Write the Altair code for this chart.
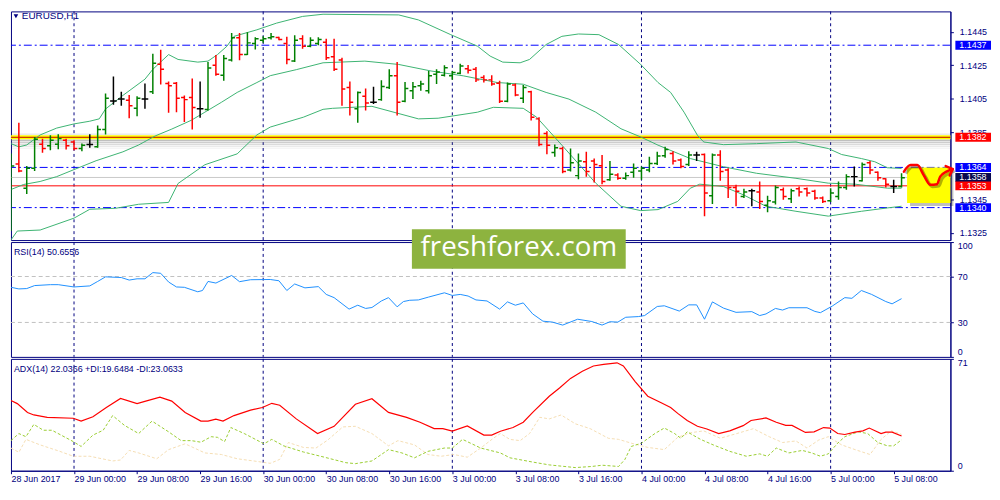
import altair as alt
import pandas as pd

# ---------------- data ----------------
bar_open = [1.13319, 1.13660, 1.13516, 1.13635, 1.13779, 1.13769, 1.13779, 1.13802, 1.13792, 1.13753,
            1.13777, 1.13763, 1.13867, 1.14037, 1.14049, 1.14041, 1.13994, 1.14049, 1.14092, 1.14256,
            1.14141, 1.14143, 1.14057, 1.14057, 1.13990, 1.13986, 1.14250, 1.14191, 1.14282, 1.14414,
            1.14315, 1.14380, 1.14400, 1.14414, 1.14416, 1.14380, 1.14276, 1.14408, 1.14364, 1.14380,
            1.14388, 1.14301, 1.14282, 1.14118, 1.13990, 1.14065, 1.14029, 1.14045, 1.14118, 1.14187,
            1.14035, 1.14098, 1.14128, 1.14098, 1.14197, 1.14191, 1.14187, 1.14203, 1.14230, 1.14226,
            1.14177, 1.14163, 1.14143, 1.14035, 1.14132, 1.14053, 1.14092, 1.13930, 1.13842, 1.13729,
            1.13753, 1.13625, 1.13591, 1.13674, 1.13678, 1.13650, 1.13566, 1.13595, 1.13576, 1.13611,
            1.13619, 1.13625, 1.13664, 1.13710, 1.13723, 1.13684, 1.13658, 1.13714, 1.13717, 1.13471,
            1.13714, 1.13625, 1.13520, 1.13467, 1.13501, 1.13493, 1.13414, 1.13434, 1.13506, 1.13453,
            1.13512, 1.13512, 1.13497, 1.13457, 1.13441, 1.13467, 1.13520, 1.13585, 1.13560, 1.13668,
            1.13611, 1.13572, 1.13526, 1.13526]
bar_high = [1.13723, 1.13907, 1.13648, 1.13822, 1.13812, 1.13832, 1.13838, 1.13812, 1.13802, 1.13783,
            1.13838, 1.13891, 1.14082, 1.14183, 1.14092, 1.14072, 1.14065, 1.14141, 1.14319, 1.14343,
            1.14153, 1.14151, 1.14069, 1.14171, 1.14153, 1.14270, 1.14311, 1.14311, 1.14443, 1.14443,
            1.14447, 1.14418, 1.14423, 1.14443, 1.14420, 1.14420, 1.14429, 1.14429, 1.14418, 1.14418,
            1.14408, 1.14408, 1.14295, 1.14153, 1.14094, 1.14112, 1.14122, 1.14161, 1.14226, 1.14270,
            1.14151, 1.14151, 1.14157, 1.14216, 1.14226, 1.14250, 1.14216, 1.14260, 1.14252, 1.14240,
            1.14191, 1.14191, 1.14157, 1.14147, 1.14141, 1.14132, 1.14098, 1.13940, 1.13856, 1.13777,
            1.13763, 1.13753, 1.13723, 1.13733, 1.13694, 1.13714, 1.13678, 1.13605, 1.13609, 1.13664,
            1.13645, 1.13704, 1.13733, 1.13763, 1.13737, 1.13694, 1.13737, 1.13733, 1.13723, 1.13723,
            1.13743, 1.13635, 1.13536, 1.13512, 1.13512, 1.13556, 1.13471, 1.13532, 1.13520, 1.13512,
            1.13526, 1.13520, 1.13506, 1.13467, 1.13516, 1.13556, 1.13599, 1.13645, 1.13670, 1.13678,
            1.13615, 1.13576, 1.13566, 1.13605]
bar_low = [1.13260, 1.13611, 1.13481, 1.13619, 1.13727, 1.13743, 1.13749, 1.13747, 1.13743, 1.13737,
           1.13757, 1.13757, 1.13836, 1.14015, 1.14009, 1.13934, 1.13946, 1.13990, 1.14078, 1.14136,
           1.13966, 1.13970, 1.13911, 1.13867, 1.13936, 1.13980, 1.14187, 1.14157, 1.14272, 1.14280,
           1.14311, 1.14345, 1.14384, 1.14404, 1.14400, 1.14256, 1.14270, 1.14349, 1.14358, 1.14370,
           1.14282, 1.14216, 1.14009, 1.13950, 1.13907, 1.13980, 1.14019, 1.14039, 1.14108, 1.13950,
           1.14029, 1.14049, 1.14098, 1.14082, 1.14138, 1.14183, 1.14163, 1.14197, 1.14201, 1.14151,
           1.14147, 1.14128, 1.14025, 1.14029, 1.14065, 1.14025, 1.13921, 1.13767, 1.13719, 1.13704,
           1.13605, 1.13615, 1.13570, 1.13585, 1.13550, 1.13540, 1.13560, 1.13566, 1.13566, 1.13579,
           1.13566, 1.13611, 1.13654, 1.13698, 1.13658, 1.13635, 1.13648, 1.13678, 1.13349, 1.13422,
           1.13560, 1.13457, 1.13408, 1.13457, 1.13408, 1.13392, 1.13372, 1.13418, 1.13447, 1.13428,
           1.13467, 1.13467, 1.13447, 1.13428, 1.13434, 1.13447, 1.13506, 1.13526, 1.13556, 1.13599,
           1.13560, 1.13520, 1.13487, 1.13520]
bar_close = [1.13648, 1.13619, 1.13635, 1.13808, 1.13753, 1.13802, 1.13812, 1.13769, 1.13753, 1.13773,
             1.13777, 1.13867, 1.14053, 1.14037, 1.14049, 1.14009, 1.14053, 1.14049, 1.14262, 1.14226,
             1.14128, 1.14053, 1.14045, 1.13998, 1.13990, 1.14234, 1.14197, 1.14291, 1.14414, 1.14315,
             1.14384, 1.14408, 1.14408, 1.14420, 1.14404, 1.14285, 1.14400, 1.14364, 1.14400, 1.14404,
             1.14295, 1.14226, 1.14108, 1.14029, 1.14088, 1.14025, 1.14029, 1.14124, 1.14187, 1.14029,
             1.14112, 1.14122, 1.14138, 1.14187, 1.14210, 1.14236, 1.14207, 1.14246, 1.14220, 1.14163,
             1.14163, 1.14138, 1.14035, 1.14138, 1.14072, 1.14118, 1.13940, 1.13777, 1.13773, 1.13757,
             1.13615, 1.13668, 1.13678, 1.13615, 1.13658, 1.13556, 1.13599, 1.13576, 1.13591, 1.13635,
             1.13635, 1.13664, 1.13708, 1.13747, 1.13678, 1.13645, 1.13714, 1.13714, 1.13487, 1.13714,
             1.13615, 1.13520, 1.13497, 1.13493, 1.13501, 1.13437, 1.13441, 1.13520, 1.13467, 1.13501,
             1.13493, 1.13487, 1.13457, 1.13437, 1.13487, 1.13520, 1.13585, 1.13585, 1.13658, 1.13625,
             1.13579, 1.13540, 1.13526, 1.13579]

bb_upper_idx = [0, 1, 2, 3.7, 5.8, 8, 10, 11.2, 12, 14.2, 17, 18, 20, 21.2, 23.7, 25, 26.2, 27.4, 28.3,
                31.2, 33.7, 37, 39.6, 49.2, 51.7, 55.8, 59.2, 60.8, 62.4, 64.6, 65.8, 67.9, 69.9, 72,
                74.6, 77.1, 79.9, 82.1, 83.7, 85.4, 87.1, 87.9, 90.4, 94.6, 99.6, 103.7, 105.4, 107.9,
                109.6, 111.2, 113]
bb_upper_val = [1.13782, 1.13763, 1.13774, 1.13834, 1.13875, 1.13900, 1.13916, 1.13930, 1.13989, 1.14070,
                1.14167, 1.14226, 1.14314, 1.14285, 1.14269, 1.14275, 1.14314, 1.14364, 1.14423, 1.14462,
                1.14502, 1.14542, 1.14555, 1.14551, 1.14521, 1.14433, 1.14364, 1.14305, 1.14269, 1.14265,
                1.14285, 1.14374, 1.14423, 1.14437, 1.14433, 1.14374, 1.14255, 1.14147, 1.14088, 1.13970,
                1.13832, 1.13792, 1.13776, 1.13782, 1.13792, 1.13753, 1.13717, 1.13693, 1.13674, 1.13638,
                1.13634]
bb_mid_idx = [0, 1.6, 3.7, 5.8, 8, 10.8, 14.2, 16.2, 18.3, 20.4, 22.9, 24.6, 26.7, 28.7, 31.2, 32.9, 36.2,
              39.6, 44.9, 49.2, 53.3, 57.4, 61.7, 65, 67.9, 70.8, 74.2, 77.4, 79.9, 82.1, 86.2, 90.4, 94.6,
              99.6, 103.7, 107.1, 111.2, 113]
bb_mid_val = [1.13508, 1.13538, 1.13556, 1.13585, 1.13627, 1.13680, 1.13733, 1.13774, 1.13828, 1.13869,
              1.13922, 1.13970, 1.14029, 1.14088, 1.14147, 1.14188, 1.14224, 1.14265, 1.14275, 1.14255,
              1.14216, 1.14187, 1.14147, 1.14137, 1.14088, 1.14048, 1.13970, 1.13871, 1.13822, 1.13773,
              1.13693, 1.13644, 1.13605, 1.13575, 1.13546, 1.13540, 1.13516, 1.13516]
bb_lower_idx = [0, 0.8, 3.7, 8, 10, 13.3, 16.2, 20, 21.2, 24.6, 28.7, 31.2, 32.9, 37.1, 39.6, 40.8, 45.8,
                51.7, 54.2, 59.2, 61.2, 65, 66.7, 69.9, 74.2, 77.4, 79.9, 82.1, 84.6, 86.2, 87.4, 90.4,
                92.9, 95.8, 99.6, 103.7, 107.9, 111.2, 113]
bb_lower_val = [1.13207, 1.13260, 1.13266, 1.13337, 1.13390, 1.13396, 1.13420, 1.13431, 1.13544, 1.13656,
                1.13721, 1.13834, 1.13881, 1.13940, 1.13987, 1.13993, 1.14005, 1.13930, 1.13934, 1.13970,
                1.13999, 1.13993, 1.13940, 1.13773, 1.13546, 1.13408, 1.13382, 1.13388, 1.13437, 1.13516,
                1.13540, 1.13526, 1.13477, 1.13408, 1.13378, 1.13349, 1.13378, 1.13398, 1.13408]

rsi_idx = [0, 1, 2, 3, 5, 6, 8, 10, 11, 12, 14, 15, 16, 17, 18, 19, 20, 21, 22, 23.7, 24.3, 25, 26, 28,
           29, 30.4, 32.9, 34, 35, 36, 37.3, 39, 40, 41, 42.9, 44, 45, 45.8, 47, 47.9, 49, 49.8, 50.6,
           51.7, 53, 55, 56, 57, 58, 59, 60.4, 62, 63, 64, 65, 66.2, 67.5, 68.7, 70, 71.9, 73.7, 75, 76,
           77, 78, 79.6, 80.4, 82, 82.9, 84.8, 86, 87, 88, 89, 90.4, 92, 94, 95, 95.8, 97, 97.9, 98.7,
           101, 102, 102.7, 104.2, 105.8, 106.7, 107.9, 109.2, 111, 111.8, 113]
rsi_val = [60.6, 59.2, 59.5, 62.1, 62.9, 62.9, 60.9, 61.8, 65.7, 69.7, 69.1, 66.9, 68.0, 68.0, 73.4, 72.8,
           65.2, 60.9, 60.6, 56.7, 57.8, 65.7, 64.3, 70.9, 65.5, 67.2, 67.4, 66.3, 57.8, 63.5, 60.1, 61.2,
           54.4, 51.6, 41.6, 45.0, 42.2, 43.0, 48.7, 51.6, 43.6, 48.2, 49.3, 49.6, 52.1, 55.8, 53.5, 54.4,
           53.0, 49.6, 48.7, 41.6, 47.9, 45.0, 47.0, 37.4, 31.1, 30.3, 27.7, 32.8, 30.8, 27.7, 30.6, 30.3,
           34.5, 35.1, 36.0, 43.9, 44.5, 39.9, 45.3, 45.3, 32.8, 47.9, 42.5, 38.8, 39.4, 36.0, 37.4, 42.2,
           40.8, 42.8, 42.8, 39.6, 38.5, 44.2, 51.6, 51.0, 57.8, 54.4, 48.2, 46.2, 50.7]

adx_idx = [0, 0.8, 2.1, 2.9, 4.6, 7.9, 8.9, 10.4, 12.1, 13.9, 16, 17.1, 18.9, 20.4, 22.1, 24.1, 25, 26,
           26.9, 28.3, 30.4, 31.9, 33.1, 34.1, 36.2, 38.9, 41, 43.7, 45.8, 47.9, 50.2, 51.9, 53.7, 54.8,
           56, 57.9, 60, 61, 62.1, 63.7, 65, 66.2, 68.3, 69.6, 71, 72.5, 73.9, 75.2, 76.9, 77.7, 79.2,
           80.8, 82.5, 83.7, 84.6, 85.8, 87.1, 88.3, 89.8, 91.2, 92.9, 93.9, 95.8, 97.1, 98.3, 99.1,
           100.8, 101.9, 103.1, 103.9, 104.9, 105.8, 107.1, 108.1, 108.9, 110.4, 111, 111.8, 113]
adx_val = [44.6, 42.6, 37.0, 35.4, 33.9, 33.3, 31.5, 34.3, 40.1, 45.9, 42.6, 44.2, 46.7, 44.2, 37.0, 31.5,
           31.5, 32.7, 31.5, 35.0, 38.5, 40.1, 42.8, 41.6, 32.9, 23.6, 28.2, 42.2, 45.7, 37.0, 33.9, 30.8,
           26.7, 26.7, 25.1, 28.4, 22.6, 22.6, 25.1, 27.4, 30.8, 37.0, 47.3, 52.5, 58.6, 63.2, 66.5, 67.5,
           68.5, 66.5, 56.6, 47.3, 43.2, 40.1, 36.4, 31.9, 28.2, 26.5, 23.6, 25.3, 28.6, 31.9, 33.5, 30.8,
           28.8, 28.8, 24.3, 24.7, 27.4, 27.1, 23.6, 23.0, 24.5, 25.3, 27.1, 23.6, 24.5, 24.5, 22.0]
pdi_idx = [0, 1, 1.9, 2.9, 4.1, 5.2, 7.9, 8.9, 10.4, 11.7, 12.9, 14.4, 16.2, 17.9, 20, 21.6, 22.9, 24.1,
           25.4, 26.2, 27.1, 27.9, 29.6, 32.1, 33.1, 34.6, 37.1, 39.6, 42.5, 43.7, 45.8, 47.9, 49.6, 51.2,
           52.9, 55, 56, 57.3, 59.6, 62.1, 63.3, 66.2, 68.3, 71.6, 73.7, 75, 77.1, 77.9, 78.7, 80, 81.7,
           82.9, 84.2, 85, 85.8, 87.5, 89.1, 91.2, 93.3, 95, 96, 97.1, 98.7, 100.4, 101.6, 102.7, 103.7,
           104.9, 105.8, 107.5, 108.7, 110, 111.2, 112, 113]
pdi_val = [19.1, 23.6, 21.6, 29.4, 25.7, 25.7, 18.5, 15.4, 22.6, 25.7, 35.0, 28.8, 23.6, 31.5, 24.7, 19.1,
           19.1, 18.1, 21.6, 21.2, 18.5, 27.4, 23.6, 17.1, 19.9, 15.8, 11.9, 8.8, 5.1, 4.5, 6.2, 13.4,
           11.3, 8.2, 12.3, 14.4, 14.4, 19.9, 14.4, 11.3, 8.2, 5.5, 3.7, 2.0, 2.7, 3.5, 2.7, 7.2, 15.4,
           17.5, 23.6, 27.1, 23.6, 20.6, 24.7, 19.9, 16.4, 12.3, 9.2, 10.7, 9.2, 14.4, 11.3, 12.9, 11.3,
           9.2, 10.7, 17.5, 21.6, 24.7, 23.6, 17.9, 15.8, 15.8, 19.6]
mdi_idx = [0, 1, 1.9, 3.7, 6.2, 7.9, 10, 12.9, 13.9, 15, 16.2, 18.5, 20, 22.1, 24.6, 26.7, 28.7, 30.8,
           32.9, 34.1, 35.2, 37.1, 38.7, 40.2, 42.1, 43.7, 45.8, 47.9, 49.1, 51.2, 52.9, 54.6, 56.2, 57.9,
           59.6, 61.2, 62.1, 63.3, 64.6, 65.8, 67.1, 68.3, 69.8, 71.6, 73.5, 75.8, 77.1, 78.7, 80.8, 82.9,
           84.6, 86.2, 87.9, 90, 92.1, 94.2, 96.2, 97.9, 99.6, 101, 102.5, 103.7, 105.4, 107.1, 109,
           110.4, 111.7, 113]
mdi_val = [14.4, 11.7, 19.9, 16.4, 12.3, 9.2, 9.2, 6.2, 6.8, 12.9, 11.3, 7.6, 13.4, 17.1, 11.3, 10.3, 7.6,
           6.2, 4.7, 7.2, 17.9, 14.8, 14.4, 19.5, 27.8, 28.2, 23.6, 15.8, 19.1, 16.4, 10.3, 9.2, 10.3, 8.6,
           14.4, 20.6, 23.6, 19.9, 19.1, 23.6, 33.9, 32.9, 35.4, 29.8, 26.7, 20.6, 19.9, 17.5, 14.8, 13.4,
           21.2, 24.1, 25.3, 20.6, 23.6, 26.7, 21.6, 17.9, 18.9, 14.4, 19.5, 21.6, 16.4, 13.4, 10.3, 19.9,
           25.3, 23.1]

blue_levels = [1.1437, 1.1364, 1.1340]
yellow_level = [1.1382]
bid_level = [1.1358]
red_level = [1.1353]

# right-side price tags (drawn in this order)
tag_price = [1.1358, 1.1437, 1.1382, 1.1364, 1.1353, 1.1340]
tag_color = ['#0A0A50', '#0000FF', '#FF0000', '#0000FF', '#FF0000', '#0000FF']

price_ticks = [1.1325, 1.1345, 1.1385, 1.1405, 1.1425, 1.1445]
rsi_ticks = [0, 30, 70, 100]
rsi_levels = [30, 70]
adx_ticks = [0, 71]

day_idx = [8, 32, 56, 80, 104]
time_tick_idx = [0, 8, 16, 24, 32, 40, 48, 56, 64, 72, 80, 88, 96, 104, 112]
time_tick_labels = ['28 Jun 2017', '29 Jun 00:00', '29 Jun 08:00', '29 Jun 16:00', '30 Jun 00:00',
                    '30 Jun 08:00', '30 Jun 16:00', '3 Jul 00:00', '3 Jul 08:00', '3 Jul 16:00',
                    '4 Jul 00:00', '4 Jul 08:00', '4 Jul 16:00', '5 Jul 00:00', '5 Jul 08:00']

# hand-drawn forecast annotation
box_idx = [113.7, 119.2]
box_price = [1.13640, 1.13427]
wave_idx = [113.3, 114.15, 115.0, 115.8, 116.65, 117.5, 117.9, 118.7, 119.5]
wave_price = [1.13615, 1.13654, 1.13654, 1.13595, 1.13536, 1.13540, 1.13585, 1.13615, 1.13630]
arrow_idx = [118.6, 119.5, 119.1]
arrow_price = [1.13648, 1.13630, 1.13592]

title_text = 'EURUSD,H1'
rsi_text = 'RSI(14) 50.6556'
adx_text = 'ADX(14) 22.0366 +DI:19.6484 -DI:23.0633'
watermark_text = 'freshforex.com'

# ---------------- style ----------------
W = 949
H_PRICE, H_RSI, H_ADX = 231, 116, 113
X_DOMAIN = [0, 119.2]
PRICE_DOMAIN = [1.13206, 1.14572]
NAVY = '#000080'
FONT = 'Liberation Sans'
BB = '#3CB371'

xscale = alt.Scale(domain=X_DOMAIN, nice=False, zero=False)
pscale = alt.Scale(domain=PRICE_DOMAIN, nice=False, zero=False)
rscale = alt.Scale(domain=[0, 100], nice=False, zero=False)
ascale = alt.Scale(domain=[0, 71], nice=False, zero=False)

common_axis = dict(grid=False, domainColor=NAVY, tickColor=NAVY, tickSize=3, labelColor=NAVY,
                   labelFont=FONT, labelFontSize=9, title=None)
price_axis = alt.Axis(orient='right', values=price_ticks, format='.4f', labelPadding=6, **common_axis)
rsi_axis = alt.Axis(orient='right', values=rsi_ticks, labelFlush=True, labelPadding=4, **common_axis)
adx_axis = alt.Axis(orient='right', values=adx_ticks, labelFlush=True, labelPadding=4, **common_axis)
label_expr = '[' + ','.join("'" + t + "'" for t in time_tick_labels) + '][round(datum.value / 8)]'
time_axis = alt.Axis(orient='bottom', values=time_tick_idx, labelExpr=label_expr, labelAlign='left',
                     labelPadding=1, labelOverlap=False, **common_axis)


def X(field, axis=None):
    return alt.X(f'{field}:Q', scale=xscale, axis=axis)


def YP(field):
    return alt.Y(f'{field}:Q', scale=pscale, axis=price_axis)


def YR(field):
    return alt.Y(f'{field}:Q', scale=rscale, axis=rsi_axis)


def YA(field):
    return alt.Y(f'{field}:Q', scale=ascale, axis=adx_axis)


# ---------------- tables ----------------
bars = pd.DataFrame({'idx': list(range(len(bar_open))), 'open': bar_open, 'high': bar_high,
                     'low': bar_low, 'close': bar_close})
bars['dir'] = ['up' if c > o else ('down' if c < o else 'flat') for o, c in zip(bar_open, bar_close)]
bars['xl'] = bars['idx'] - 0.42
bars['xr'] = bars['idx'] + 0.42
dir_color = alt.Color('dir:N', scale=alt.Scale(domain=['up', 'down', 'flat'],
                                               range=['#008000', '#FF0000', '#000000']), legend=None)

days = pd.DataFrame({'idx': day_idx})
upper = pd.DataFrame({'idx': bb_upper_idx, 'v': bb_upper_val})
mid = pd.DataFrame({'idx': bb_mid_idx, 'v': bb_mid_val})
lower = pd.DataFrame({'idx': bb_lower_idx, 'v': bb_lower_val})
tags = pd.DataFrame({'p': tag_price, 'c': tag_color, 'k': list(range(len(tag_price)))})
tags['t'] = [f'{p:.4f}' for p in tag_price]


# ---------------- price panel ----------------
def day_rule(axis=None):
    return alt.Chart(days).mark_rule(color=NAVY, strokeDash=[3, 3], strokeWidth=1).encode(x=X('idx', axis))


p_days = day_rule()
p_blue = alt.Chart(pd.DataFrame({'p': blue_levels})).mark_rule(
    color='#0000FF', strokeDash=[8, 3, 2, 3], strokeWidth=1).encode(y=YP('p'))
p_bid = alt.Chart(pd.DataFrame({'p': bid_level})).mark_rule(color='#C8C8C8', strokeWidth=1).encode(y=YP('p'))
p_red = alt.Chart(pd.DataFrame({'p': red_level})).mark_rule(color='#FF0000', strokeWidth=1).encode(y=YP('p'))
ydf = pd.DataFrame({'p': yellow_level})
p_yshadow = [alt.Chart(ydf).mark_rule(color='#707070', strokeWidth=1.5, opacity=op, yOffset=off).encode(y=YP('p'))
             for off, op in [(-3, 0.15), (3, 0.45), (5, 0.35), (7, 0.25), (9, 0.15), (11, 0.07)]]
p_yellow = alt.Chart(ydf).mark_rule(color='#FFFF00', strokeWidth=4).encode(y=YP('p'))
p_ycore = alt.Chart(ydf).mark_rule(color='#C00000', strokeWidth=1).encode(y=YP('p'))

p_bands = [alt.Chart(d).mark_line(color=BB, strokeWidth=1, clip=True).encode(x=X('idx'), y=YP('v'))
           for d in (upper, mid, lower)]

p_wick = alt.Chart(bars).mark_rule(strokeWidth=1.5, clip=True).encode(
    x=X('idx'), y=YP('low'), y2='high', color=dir_color)
p_open = alt.Chart(bars).transform_filter('datum.xl >= 0').mark_rule(strokeWidth=1.5, clip=True).encode(
    x=X('xl'), x2='idx', y=YP('open'), color=dir_color)
p_close = alt.Chart(bars).mark_rule(strokeWidth=1.5, clip=True).encode(
    x=X('idx'), x2='xr', y=YP('close'), color=dir_color)

boxdf = pd.DataFrame({'x1': [box_idx[0]], 'x2': [box_idx[1]], 'y1': [box_price[0]], 'y2': [box_price[1]]})
p_box_shadow = alt.Chart(boxdf).mark_rect(color='#000000', opacity=0.25, xOffset=3, yOffset=3,
                                          x2Offset=3, y2Offset=3).encode(
    x=X('x1'), x2='x2', y=YP('y1'), y2='y2')
p_box = alt.Chart(boxdf).mark_rect(color='#FFFF00').encode(x=X('x1'), x2='x2', y=YP('y1'), y2='y2')
wavedf = pd.DataFrame({'idx': wave_idx, 'p': wave_price})
p_wave_sh = alt.Chart(wavedf).mark_line(color='#000000', opacity=0.3, strokeWidth=3, interpolate='monotone',
                                        xOffset=2, yOffset=2).encode(x=X('idx'), y=YP('p'))
p_wave = alt.Chart(wavedf).mark_line(color='#FF0000', strokeWidth=2.5, interpolate='monotone',
                                     strokeCap='round').encode(x=X('idx'), y=YP('p'))
arrowdf = pd.DataFrame({'idx': arrow_idx, 'p': arrow_price, 'k': [0, 1, 2]})
p_arrow = alt.Chart(arrowdf).mark_line(color='#FF0000', strokeWidth=2.5, strokeCap='round',
                                       strokeJoin='round').encode(x=X('idx'), y=YP('p'), order='k:Q')

tag_shape = 'M-18,-4.5H18V4.5H-18Z'
p_tag_box = alt.Chart(tags).mark_point(shape=tag_shape, size=4, filled=True, opacity=1, strokeWidth=0).encode(
    x=alt.value(W + 23), y=YP('p'), color=alt.Color('c:N', scale=None), order='k:Q')
p_tag_txt = alt.Chart(tags).mark_text(align='left', baseline='middle', color='white', font=FONT,
                                      fontSize=9).encode(x=alt.value(W + 9), y=YP('p'), text='t:N')

p_tri = alt.Chart(pd.DataFrame({'t': [title_text]})).mark_point(
    shape='triangle-down', size=22, filled=True, color=NAVY, opacity=1).encode(x=alt.value(5), y=alt.value(5))
p_title = alt.Chart(pd.DataFrame({'t': [title_text]})).mark_text(
    align='left', baseline='middle', color=NAVY, font=FONT, fontSize=10).encode(
    x=alt.value(11), y=alt.value(5), text='t:N')

price_panel = alt.layer(
    p_days, p_blue, p_bid, p_red, *p_yshadow, p_yellow, p_ycore, *p_bands, p_wick, p_open, p_close,
    p_box_shadow, p_box, p_wave_sh, p_wave, p_arrow, p_tag_box, p_tag_txt, p_tri, p_title
).properties(width=W, height=H_PRICE)

# ---------------- RSI panel ----------------
rsidf = pd.DataFrame({'idx': rsi_idx, 'v': rsi_val})
r_days = day_rule()
r_levels = alt.Chart(pd.DataFrame({'v': rsi_levels})).mark_rule(
    color='#C0C0C0', strokeDash=[4, 3], strokeWidth=1).encode(y=YR('v'))
r_line = alt.Chart(rsidf).mark_line(color='#1E90FF', strokeWidth=1, clip=True).encode(x=X('idx'), y=YR('v'))
r_title = alt.Chart(pd.DataFrame({'t': [rsi_text]})).mark_text(
    align='left', baseline='middle', color=NAVY, font=FONT, fontSize=9).encode(
    x=alt.value(3), y=alt.value(10), text='t:N')
wm = pd.DataFrame({'t': [watermark_text]})
r_wm_box = alt.Chart(wm).mark_rect(color='#8DB33F').encode(
    x=alt.value(405), x2=alt.value(621), y=alt.value(-13), y2=alt.value(27))
r_wm_txt = alt.Chart(wm).mark_text(align='center', baseline='middle', color='white', font='Open Sans',
                                   fontSize=28).encode(x=alt.value(513), y=alt.value(6), text='t:N')

rsi_panel = alt.layer(r_days, r_levels, r_line, r_title, r_wm_box, r_wm_txt).properties(width=W, height=H_RSI)

# ---------------- ADX panel ----------------
a_days = day_rule(time_axis)
a_mdi = alt.Chart(pd.DataFrame({'idx': mdi_idx, 'v': mdi_val})).mark_line(
    color='#F5DEB3', strokeDash=[3, 2], strokeWidth=1, clip=True).encode(x=X('idx', time_axis), y=YA('v'))
a_pdi = alt.Chart(pd.DataFrame({'idx': pdi_idx, 'v': pdi_val})).mark_line(
    color='#9ACD32', strokeDash=[3, 2], strokeWidth=1, clip=True).encode(x=X('idx', time_axis), y=YA('v'))
a_adx = alt.Chart(pd.DataFrame({'idx': adx_idx, 'v': adx_val})).mark_line(
    color='#FF0000', strokeWidth=1.2, clip=True).encode(x=X('idx', time_axis), y=YA('v'))
a_title = alt.Chart(pd.DataFrame({'t': [adx_text]})).mark_text(
    align='left', baseline='middle', color=NAVY, font=FONT, fontSize=9).encode(
    x=alt.value(3), y=alt.value(10), text='t:N')

adx_panel = alt.layer(a_days, a_mdi, a_pdi, a_adx, a_title).properties(width=W, height=H_ADX)

chart = alt.vconcat(price_panel, rsi_panel, adx_panel, spacing=2).resolve_scale(
    x='shared', y='independent'
).properties(
    padding={'left': 0, 'top': 0, 'right': 0, 'bottom': 0}, background='white', bounds='flush'
).configure_view(stroke=NAVY, strokeWidth=1).configure_text(font=FONT)

chart.save('out.html', embed_options={'renderer': 'svg', 'actions': False})
